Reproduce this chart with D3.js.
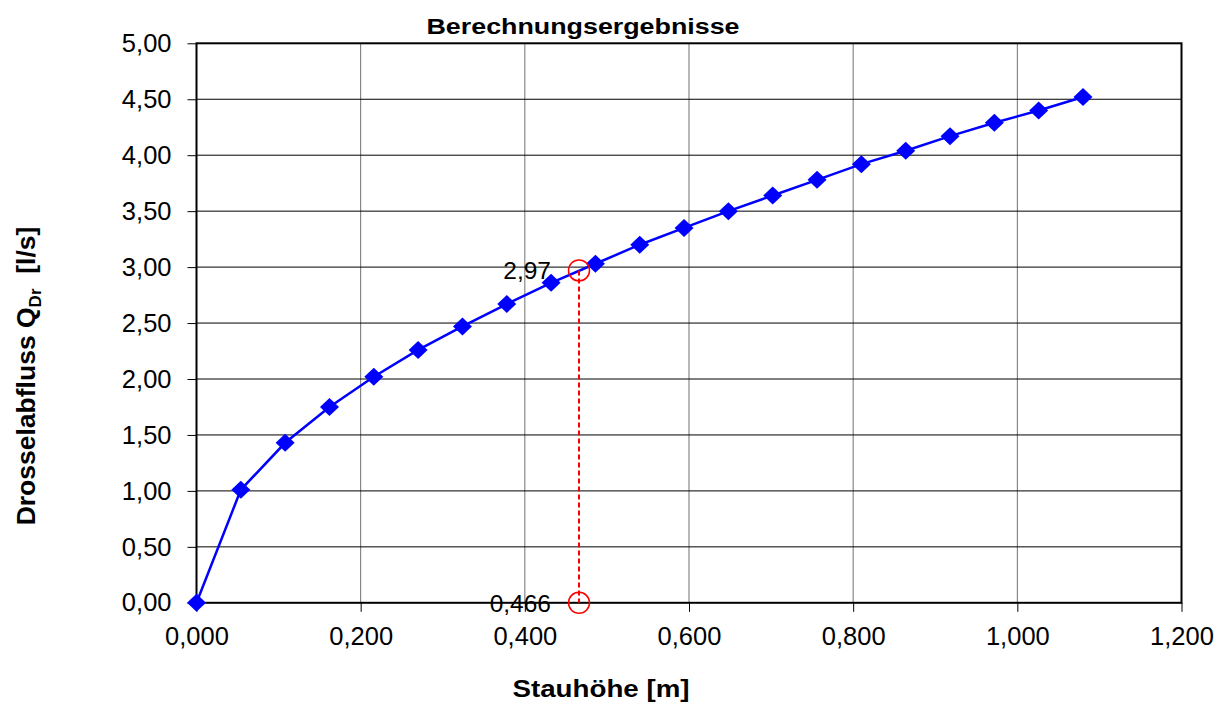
<!DOCTYPE html>
<html><head><meta charset="utf-8">
<script src="https://cdn.jsdelivr.net/npm/d3@7"></script>
<style>body{margin:0;background:#fff}svg{display:block}text{font-family:"Liberation Sans",Arial,sans-serif}</style>
</head><body>
<svg id="c" width="1221" height="706"></svg>
<script>
const stauhoehe = [0,0.054,0.108,0.162,0.216,0.270,0.324,0.378,0.432,0.486,0.540,0.594,0.648,0.702,0.756,0.810,0.864,0.918,0.972,1.026,1.080];
const abfluss = [0,1.01,1.43,1.75,2.02,2.26,2.47,2.67,2.86,3.03,3.20,3.35,3.50,3.64,3.78,3.92,4.04,4.17,4.29,4.40,4.52];
const markX = 0.466, markY = 2.97;
const xTicks = [0,0.2,0.4,0.6,0.8,1.0,1.2];
const yTicks = [0,0.5,1,1.5,2,2.5,3,3.5,4,4.5,5];
const fmt = (v,d)=>v.toFixed(d).replace('.',',');

const svg = d3.select('#c');
const L=196.5, R=1181.5, T=43.3, B=602.8;
const x = d3.scaleLinear().domain([0,1.2]).range([L,R]);
const y = d3.scaleLinear().domain([0,5]).range([B,T]);

// grid
svg.append('g').selectAll('line').data(xTicks.slice(1,-1)).join('line')
  .attr('x1',d=>x(d)).attr('x2',d=>x(d)).attr('y1',T).attr('y2',B)
  .attr('stroke','#707070').attr('stroke-width',1);
svg.append('g').selectAll('line').data(yTicks.slice(1,-1)).join('line')
  .attr('x1',L).attr('x2',R).attr('y1',d=>y(d)).attr('y2',d=>y(d))
  .attr('stroke','#000').attr('stroke-width',1);
svg.append('rect').attr('x',L).attr('y',T).attr('width',R-L).attr('height',B-T)
  .attr('fill','none').attr('stroke','#000').attr('stroke-width',2);

// axes
const yAxis = d3.axisLeft(y).tickValues(yTicks).tickFormat(d=>fmt(d,2)).tickSize(9).tickPadding(16);
const gy = svg.append('g').attr('transform',`translate(${L},0)`).call(yAxis);
const xAxis = d3.axisBottom(x).tickValues(xTicks).tickFormat(d=>fmt(d,3)).tickSize(9).tickPadding(15);
const gx = svg.append('g').attr('transform',`translate(0,${B})`).call(xAxis);
[gx,gy].forEach(g=>{g.select('.domain').remove();
  g.selectAll('.tick line').attr('stroke','#000');
  g.selectAll('.tick text').attr('fill','#000').style('font-size','25.5px').style('font-family','"Liberation Sans",Arial,sans-serif');});

// series
const line = d3.line().x((d,i)=>x(stauhoehe[i])).y(d=>y(d));
svg.append('path').datum(abfluss).attr('d',line).attr('fill','none').attr('stroke','#0000ff').attr('stroke-width',2.5);
svg.append('g').selectAll('path').data(abfluss).join('path')
  .attr('transform',(d,i)=>`translate(${x(stauhoehe[i])},${y(d)})`)
  .attr('d','M0,-9L9.5,0L0,9L-9.5,0Z').attr('fill','#0000ff');

// marker
svg.append('line').attr('x1',x(markX)).attr('x2',x(markX)).attr('y1',y(markY)).attr('y2',y(0))
  .attr('stroke','#ff0000').attr('stroke-width',2).attr('stroke-dasharray','5,3');
[[markX,markY],[markX,0]].forEach(p=>svg.append('circle').attr('cx',x(p[0])).attr('cy',y(p[1])).attr('r',10.5)
  .attr('fill','none').attr('stroke','#ff0000').attr('stroke-width',1.5));
svg.append('text').attr('x',x(markX)-28).attr('y',y(markY)+9).attr('text-anchor','end').style('font-size','24.5px').text(fmt(markY,2));
svg.append('text').attr('x',x(markX)-28).attr('y',y(0)+9).attr('text-anchor','end').style('font-size','24.5px').text(fmt(markX,3));

// titles
svg.append('text').attr('x',583).attr('y',34).attr('text-anchor','middle').attr('textLength',313).attr('lengthAdjust','spacingAndGlyphs')
  .style('font-size','22.5px').style('font-weight','bold').text('Berechnungsergebnisse');
svg.append('text').attr('x',601).attr('y',697).attr('text-anchor','middle').attr('textLength',177).attr('lengthAdjust','spacingAndGlyphs')
  .style('font-size','23.5px').style('font-weight','bold').text('Stauhöhe [m]');
const yl = svg.append('text').attr('transform','translate(35,376) rotate(-90)').attr('text-anchor','middle').style('font-size','26.5px').style('font-weight','bold');
yl.append('tspan').text('Drosselabfluss Q');
yl.append('tspan').attr('dy',6).style('font-size','17px').text('Dr');
yl.append('tspan').attr('dy',-6).text('\u00a0 [l/s]');
</script>
</body></html>
